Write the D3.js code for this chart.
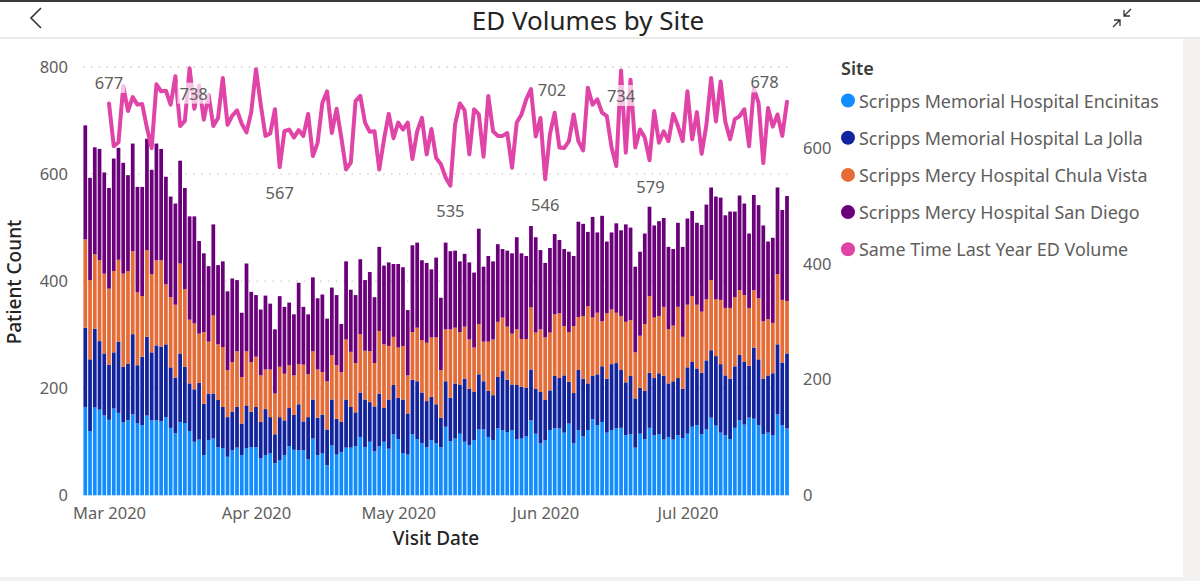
<!DOCTYPE html>
<html>
<head>
<meta charset="utf-8">
<script src="https://cdn.jsdelivr.net/npm/d3@7"></script>
<style>
  html, body { margin: 0; padding: 0; background: #fff; }
  svg { display: block; font-family: "Segoe UI", "Noto Sans", "Open Sans", sans-serif; }
</style>
</head>
<body>
<svg id="chart" width="1200" height="581"></svg>
<script>
// ---------------- DATA ----------------
const firstDay = "2020-02-25";
const lastDay = "2020-07-22";
const lineFirstDay = "2020-03-01";
const siteNames = [
  "Scripps Memorial Hospital Encinitas",
  "Scripps Memorial Hospital La Jolla",
  "Scripps Mercy Hospital Chula Vista",
  "Scripps Mercy Hospital San Diego"
];
const lineName = "Same Time Last Year ED Volume";

const encinitas = [165,120,164,160,149,141,162,154,136,140,151,135,131,149,140,140,138,146,126,116,
  137,135,120,100,104,75,103,106,90,88,72,84,89,75,88,90,90,69,75,78,
  60,65,75,92,85,84,84,67,106,75,78,56,93,76,81,89,89,92,109,90,
  100,82,92,100,87,114,105,79,76,114,105,97,90,103,97,90,128,101,106,115,
  100,94,103,123,123,109,103,125,122,118,122,105,106,110,140,115,97,103,122,125,
  125,117,134,97,122,110,122,142,131,137,117,122,125,126,112,114,89,115,105,126,
  112,114,104,109,104,112,107,115,128,131,114,123,145,130,117,112,105,126,140,132,
  145,143,131,114,117,112,151,131,125];
const laJolla = [148,134,147,128,116,103,105,133,104,106,150,108,128,147,127,140,140,136,113,104,
  128,105,89,98,106,96,87,84,88,77,74,72,76,59,80,66,75,68,86,68,
  54,81,65,71,65,86,54,79,73,70,73,67,86,67,56,90,76,63,83,89,
  74,84,98,63,92,92,77,100,77,102,108,95,86,81,73,55,85,81,103,91,
  118,105,90,103,90,86,84,96,110,98,85,101,97,91,95,84,96,75,74,98,
  94,107,78,94,112,108,87,81,95,104,101,123,122,108,99,109,92,86,90,103,
  107,114,119,100,109,107,92,124,121,106,115,129,126,130,128,112,113,115,122,117,
  97,133,123,104,107,116,131,117,140];
const chulaVista = [165,148,139,151,149,142,152,153,174,173,155,136,113,162,146,159,161,112,131,136,
  168,145,119,123,92,134,97,146,104,112,88,93,104,87,101,93,94,87,74,89,
  76,94,87,80,74,75,106,80,90,90,79,90,83,100,93,112,103,92,109,91,
  95,81,117,119,100,90,94,100,71,89,100,98,109,111,125,89,97,128,104,99,
  97,92,83,94,74,92,104,103,100,99,95,104,89,91,116,105,117,117,108,115,
  121,92,93,125,99,117,144,109,115,84,122,102,94,101,113,104,86,97,125,143,
  113,107,129,101,104,133,97,117,123,119,114,114,131,106,120,126,132,129,121,125,
  108,107,114,107,105,94,131,117,98];
const sanDiego = [213,191,200,208,189,188,210,209,207,179,201,197,204,208,195,218,208,201,188,189,
  192,189,193,200,173,147,141,170,148,160,147,156,133,120,164,131,115,123,138,123,
  120,132,125,117,114,152,108,112,138,133,145,117,126,131,90,146,116,127,140,132,
  148,123,157,147,156,136,156,147,122,162,159,149,149,127,149,135,162,146,144,132,
  136,144,140,178,140,160,146,145,128,142,150,172,160,155,152,178,148,139,158,150,
  137,144,150,131,178,172,139,188,150,197,134,144,167,160,182,173,160,157,169,167,
  172,177,166,154,143,157,168,161,159,153,162,177,173,192,191,173,180,160,177,171,
  139,178,174,179,145,159,162,168,196];
const lastYear = [677,603,610,707,664,688,675,676,635,600,710,698,699,675,724,638,647,738,668,708,
  649,692,638,652,721,640,656,665,642,627,662,736,675,621,625,667,567,629,632,618,
  631,621,659,586,609,678,698,626,668,618,563,575,681,690,644,628,629,563,615,659,
  617,644,632,644,581,629,652,589,633,583,572,549,535,641,677,665,589,667,658,585,
  690,629,621,621,626,566,644,658,684,702,620,652,546,624,661,601,600,612,658,612,
  596,704,675,684,661,655,601,569,734,592,718,601,632,618,579,664,609,629,612,659,
  638,612,698,615,662,590,640,721,646,715,645,615,650,655,667,603,703,678,574,669,
  637,658,621,680];
// indices (into lastYear) of the points that carry a data label
const labelledPoints = [0, 17, 36, 72, 89, 92, 108, 114, 137];
const leftTicks = [0, 200, 400, 600, 800];
const rightTicks = [0, 200, 400, 600];
const monthTicks = ["2020-03-01", "2020-04-01", "2020-05-01", "2020-06-01", "2020-07-01"];

// ---------------- STYLE ----------------
const colors = ["#118DFF", "#12239E", "#E66C37", "#6B007B"];
const lineColor = "#E044A7";
const textGray = "#605E5C";
const darkText = "#252423";
// label offsets relative to its point (style only)
const labelOffsets = {0: [0, -21], 17: [4, 25], 36: [0, 25], 72: [0, 25], 89: [21, 1],
  92: [0, 25], 108: [0, 25], 114: [1, 26], 137: [6, -21]};

const parse = d3.timeParse("%Y-%m-%d");
const days = d3.timeDay.range(parse(firstDay), d3.timeDay.offset(parse(lastDay), 1));
const lineDays = days.filter(d => d >= parse(lineFirstDay));

const svg = d3.select("#chart");

// ----- frame / header -----
svg.append("rect").attr("x", 0).attr("y", 0).attr("width", 1200).attr("height", 2).attr("fill", "#3b3a39");
svg.append("rect").attr("x", 0).attr("y", 37).attr("width", 1200).attr("height", 2).attr("fill", "#EDEBE9");
svg.append("rect").attr("x", 1183).attr("y", 39).attr("width", 17).attr("height", 542).attr("fill", "#F3F2F1");
svg.append("rect").attr("x", 0).attr("y", 577).attr("width", 1200).attr("height", 4).attr("fill", "#F3F2F1");
svg.append("path").attr("d", "M41,8 L31,18 L41,28").attr("fill", "none").attr("stroke", "#333").attr("stroke-width", 1.6);
svg.append("path").attr("d", "M1113,27 L1120,20 M1114,20 L1120,20 L1120,26 M1131,9 L1124,16 M1124,10 L1124,16 L1130,16")
  .attr("fill", "none").attr("stroke", "#333").attr("stroke-width", 1.3);
svg.append("text").attr("x", 588).attr("y", 20).attr("text-anchor", "middle").attr("dominant-baseline", "central")
  .attr("font-size", 26).attr("fill", darkText).text("ED Volumes by Site");

// ----- scales -----
const x = d3.scaleTime().domain([parse(firstDay), parse(lastDay)]).range([85.3, 787]);
const yL = d3.scaleLinear().domain([0, 800]).range([495.3, 67]);
const yR = d3.scaleLinear().domain([0, 740]).range([495.3, 67]);
const step = x(days[1]) - x(days[0]);
const barW = step - 1;

// gridlines
svg.append("g").selectAll("line").data(leftTicks.filter(t => t > 0)).join("line")
  .attr("x1", 83).attr("x2", 790).attr("y1", d => yL(d)).attr("y2", d => yL(d))
  .attr("stroke", "#C8C6C4").attr("stroke-width", 1.3).attr("stroke-dasharray", "1.3,6.6");

// stacked bars
const rows = days.map((d, i) => ({date: d, s0: encinitas[i], s1: laJolla[i], s2: chulaVista[i], s3: sanDiego[i]}));
const stack = d3.stack().keys(["s0", "s1", "s2", "s3"])(rows);
const gBars = svg.append("g");
stack.forEach((layer, li) => {
  gBars.append("g").attr("fill", colors[li]).selectAll("rect").data(layer).join("rect")
    .attr("x", d => x(d.data.date) - barW / 2)
    .attr("width", barW)
    .attr("y", d => yL(d[1]))
    .attr("height", d => yL(d[0]) - yL(d[1]));
});

// line
const linePts = lineDays.map((d, i) => ({date: d, v: lastYear[i]}));
svg.append("path").datum(linePts)
  .attr("d", d3.line().x(d => x(d.date)).y(d => yR(d.v)))
  .attr("fill", "none").attr("stroke", lineColor).attr("stroke-width", 4)
  .attr("stroke-linejoin", "round").attr("stroke-linecap", "round");

// data labels
const gLab = svg.append("g");
labelledPoints.forEach(i => {
  const p = linePts[i];
  const off = labelOffsets[i] || [0, -21];
  const cx = x(p.date) + off[0], cy = yR(p.v) + off[1];
  const t = gLab.append("text").attr("x", cx).attr("y", cy).attr("text-anchor", "middle")
    .attr("dominant-baseline", "central").attr("font-size", 16.5).attr("fill", textGray).text(d3.format("d")(p.v));
  const bb = t.node().getBBox();
  gLab.insert("rect", "text").attr("x", bb.x - 2).attr("y", bb.y + 1).attr("width", bb.width + 4).attr("height", bb.height - 2)
    .attr("fill", "#fff").attr("fill-opacity", 0.68);
});

// axes
function styleAxis(g) {
  g.select(".domain").remove();
  g.selectAll(".tick line").remove();
  g.selectAll(".tick text").attr("fill", textGray).attr("font-size", 16.5)
    .attr("font-family", "'Segoe UI', 'Noto Sans', 'Open Sans', sans-serif");
}
svg.append("g").attr("transform", "translate(68,0)")
  .call(d3.axisLeft(yL).tickValues(leftTicks).tickSize(0).tickPadding(0).tickFormat(d3.format("d")))
  .call(styleAxis);
svg.append("g").attr("transform", "translate(803,0)")
  .call(d3.axisRight(yR).tickValues(rightTicks).tickSize(0).tickPadding(0).tickFormat(d3.format("d")))
  .call(styleAxis);
svg.append("g").attr("transform", "translate(0,507)")
  .call(d3.axisBottom(x).tickValues(monthTicks.map(parse)).tickSize(0).tickPadding(0).tickFormat(d3.timeFormat("%b %Y")))
  .call(styleAxis);

// axis titles
svg.append("text").attr("transform", "translate(14,282) rotate(-90)").attr("text-anchor", "middle")
  .attr("dominant-baseline", "central").attr("font-size", 19).attr("font-weight", 500).attr("fill", darkText).text("Patient Count");
svg.append("text").attr("x", 436).attr("y", 538).attr("text-anchor", "middle")
  .attr("dominant-baseline", "central").attr("font-size", 19).attr("font-weight", 500).attr("fill", darkText).text("Visit Date");

// legend
const legendItems = siteNames.map((n, i) => ({name: n, color: colors[i]})).concat([{name: lineName, color: lineColor}]);
svg.append("text").attr("x", 841).attr("y", 68).attr("dominant-baseline", "central")
  .attr("font-size", 18).attr("font-weight", 600).attr("fill", "#3b3a39").text("Site");
const lg = svg.append("g").selectAll("g").data(legendItems).join("g")
  .attr("transform", (d, i) => `translate(848,${100.5 + i * 37.2})`);
lg.append("circle").attr("r", 7).attr("fill", d => d.color);
lg.append("text").attr("x", 11).attr("dominant-baseline", "central").attr("font-size", 17.9)
  .attr("fill", textGray).text(d => d.name);
</script>
</body>
</html>
